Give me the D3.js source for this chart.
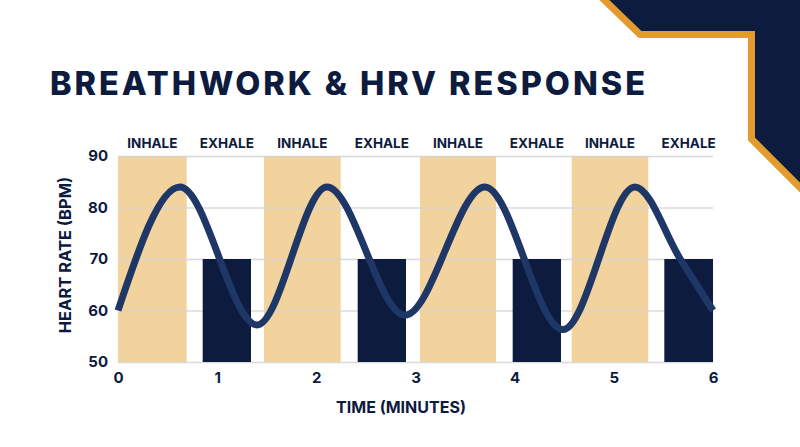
<!DOCTYPE html>
<html>
<head>
<meta charset="utf-8">
<script src="https://cdn.jsdelivr.net/npm/d3@7"></script>
<style>
  html, body { margin: 0; padding: 0; background: #fff; }
  svg { display: block; font-family: Inter, "Open Sans", sans-serif; }
</style>
</head>
<body>
<div id="chart"></div>
<script>
// breathing phases (minutes) and bar tops
var phaseLabels = ["INHALE", "EXHALE", "INHALE", "EXHALE", "INHALE", "EXHALE", "INHALE", "EXHALE"];
var phaseStart  = [0, 0.854, 1.472, 2.417, 3.045, 3.98, 4.575, 5.509];
var phaseEnd    = [0.693, 1.341, 2.246, 2.904, 3.812, 4.467, 5.347, 6.0];
var phaseTop    = [90, 70, 90, 70, 90, 70, 90, 70];

// heart rate curve, peaks and troughs
var hrTime = [0, 0.625, 1.402, 2.107, 2.894, 3.70, 4.487, 5.213, 5.67, 6.0];
var hrBpm  = [60, 84, 57.2, 84, 59.1, 84, 56.3, 84, 70, 60];

var xTicks = [0, 1, 2, 3, 4, 5, 6];
var yTicks = [50, 60, 70, 80, 90];

var width = 800;
var height = 447;
var plot = {left: 118, right: 713, top: 156, bottom: 362};

var navy = "#0d1b3e";
var tan = "#f3d39d";
var lineCol = "#1e3767";
var orange = "#e39b2f";

var svg = d3.select("#chart")
  .append("svg")
  .attr("width", width)
  .attr("height", height);

// corner decoration
svg.append("path")
  .attr("d", "M594,-10 L640,34.5 L751.5,34.5 L751.5,139 L810,197.5 L810,-10 Z")
  .attr("fill", navy)
  .attr("stroke", orange)
  .attr("stroke-width", 7)
  .attr("stroke-linejoin", "miter");

// title
svg.append("text")
  .attr("x", 50)
  .attr("y", 95)
  .attr("fill", navy)
  .attr("font-size", 32.5)
  .attr("font-weight", 800)
  .attr("textLength", 595)
  .attr("lengthAdjust", "spacing")
  .text("BREATHWORK & HRV RESPONSE");

var x = d3.scaleLinear().domain([0, 6]).range([plot.left, plot.right]);
var y = d3.scaleLinear().domain([50, 90]).range([plot.bottom, plot.top]);

var phases = phaseLabels.map(function (d, i) {
  return {label: d, start: phaseStart[i], end: phaseEnd[i], top: phaseTop[i], inhale: d === "INHALE"};
});

// inhale bands (full height)
svg.append("g").selectAll("rect")
  .data(phases.filter(function (d) { return d.inhale; }))
  .enter()
  .append("rect")
  .attr("x", function (d) { return x(d.start); })
  .attr("width", function (d) { return x(d.end) - x(d.start); })
  .attr("y", function (d) { return y(d.top); })
  .attr("height", function (d) { return y(50) - y(d.top); })
  .attr("fill", tan);

// grid + y labels
var yAxis = svg.append("g")
  .attr("transform", "translate(" + plot.left + ",0)")
  .call(d3.axisLeft(y).tickValues(yTicks).tickSize(-(plot.right - plot.left)).tickPadding(10));
yAxis.select(".domain").remove();
yAxis.selectAll(".tick line")
  .attr("stroke", "#d4d4d4")
  .attr("stroke-opacity", 0.85)
  .attr("stroke-width", 1.3);
yAxis.selectAll(".tick text")
  .attr("fill", navy)
  .attr("font-size", 15)
  .attr("font-weight", 700)
  .attr("font-family", "Inter, 'Open Sans', sans-serif");

// exhale bars
svg.append("g").selectAll("rect")
  .data(phases.filter(function (d) { return !d.inhale; }))
  .enter()
  .append("rect")
  .attr("x", function (d) { return x(d.start); })
  .attr("width", function (d) { return x(d.end) - x(d.start); })
  .attr("y", function (d) { return y(d.top); })
  .attr("height", function (d) { return y(50) - y(d.top); })
  .attr("fill", navy);

// phase labels above the plot
svg.append("g").selectAll("text")
  .data(phases)
  .enter()
  .append("text")
  .attr("x", function (d) { return (x(d.start) + x(d.end)) / 2; })
  .attr("y", 148)
  .attr("text-anchor", "middle")
  .attr("fill", navy)
  .attr("font-size", 13.5)
  .attr("font-weight", 700)
  .text(function (d) { return d.label; });

// x axis labels
var xAxis = svg.append("g")
  .attr("transform", "translate(0," + plot.bottom + ")")
  .call(d3.axisBottom(x).tickValues(xTicks).tickSize(0).tickPadding(10).tickFormat(d3.format("d")));
xAxis.select(".domain").remove();
xAxis.selectAll(".tick text")
  .attr("fill", navy)
  .attr("font-size", 15)
  .attr("font-weight", 700)
  .attr("font-family", "Inter, 'Open Sans', sans-serif");

// heart rate line
var hrData = hrTime.map(function (t, i) { return {t: t, bpm: hrBpm[i]}; });
var line = d3.line()
  .x(function (d) { return x(d.t); })
  .y(function (d) { return y(d.bpm); })
  .curve(d3.curveMonotoneX);

svg.append("path")
  .datum(hrData)
  .attr("d", line)
  .attr("fill", "none")
  .attr("stroke", lineCol)
  .attr("stroke-width", 7)
  .attr("stroke-linecap", "butt");

// axis titles
svg.append("text")
  .attr("x", 401)
  .attr("y", 413)
  .attr("text-anchor", "middle")
  .attr("fill", navy)
  .attr("font-size", 16)
  .attr("font-weight", 700)
  .text("TIME (MINUTES)");

svg.append("text")
  .attr("transform", "translate(71,255) rotate(-90)")
  .attr("text-anchor", "middle")
  .attr("fill", navy)
  .attr("font-size", 16.5)
  .attr("font-weight", 700)
  .text("HEART RATE (BPM)");
</script>
</body>
</html>
